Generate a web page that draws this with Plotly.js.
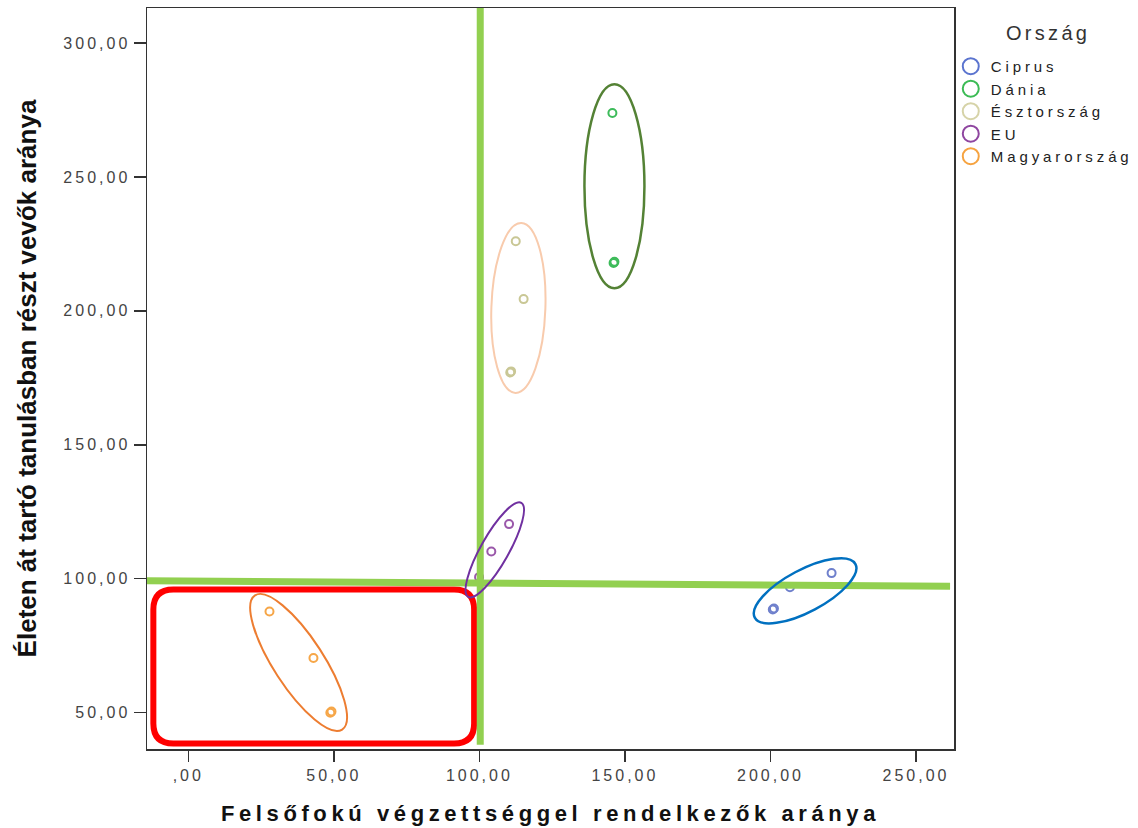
<!DOCTYPE html>
<html>
<head>
<meta charset="utf-8">
<script src="https://cdn.plot.ly/plotly-3.0.1.min.js"></script>
<style>
body{margin:0;background:#fff;}
.xtick text, .ytick text { letter-spacing: 3px; }
text.xtitle { letter-spacing: 4.6px; }
text.legendtext { letter-spacing: 3.9px; }
.annotation-text { letter-spacing: 3.3px; }
</style>
</head>
<body>
<div id="chart" style="width:1138px;height:828px;"></div>
<script>
// ---- Data ----
const countries = ['Ciprus', 'Dánia', 'Észtország', 'EU', 'Magyarország'];
const ciprusX = [200.8, 201.2, 206.7, 221.0];
const ciprusY = [88.5, 88.9, 96.8, 102.1];
const daniaX = [145.7, 146.1, 146.4];
const daniaY = [273.9, 217.9, 218.3];
const esztX = [112.5, 115.2, 110.6, 110.9];
const esztY = [226.0, 204.4, 177.0, 177.4];
const euX = [110.2, 104.1, 99.9];
const euY = [120.4, 110.2, 100.6];
const magyarX = [27.9, 43.0, 48.8, 49.2];
const magyarY = [87.8, 70.4, 50.0, 50.4];
const xTickVals = [0, 50, 100, 150, 200, 250];
const xTickText = [',00', '50,00', '100,00', '150,00', '200,00', '250,00'];
const yTickVals = [50, 100, 150, 200, 250, 300];
const yTickText = ['50,00', '100,00', '150,00', '200,00', '250,00', '300,00'];

// ---- Styles ----
const markerColors = ['#6f80cc', '#3dbb5a', '#c9c795', '#9a58aa', '#f6a648'];
const legendColors = ['#5b74cf', '#3cbb55', '#d6d3a8', '#8f46a0', '#f6a340'];
const xRange = [-14.18, 263.05];
const yRange = [36.44, 313.07];
const W = 1138, H = 828;
const M = {l: 147, r: 184, t: 8, b: 79};
const xs = (W - M.l - M.r) / (xRange[1] - xRange[0]);
const ys = (H - M.t - M.b) / (yRange[1] - yRange[0]);

const seriesX = [ciprusX, daniaX, esztX, euX, magyarX];
const seriesY = [ciprusY, daniaY, esztY, euY, magyarY];

const traces = [];
countries.forEach((name, i) => {
  traces.push({
    type: 'scatter', mode: 'markers', name: name,
    x: seriesX[i], y: seriesY[i], showlegend: false,
    marker: {symbol: 'circle-open', size: 8, color: markerColors[i], line: {width: 2, color: markerColors[i]}},
    hoverinfo: 'x+y+name'
  });
});
countries.forEach((name, i) => {
  traces.push({
    type: 'scatter', mode: 'markers', name: name,
    x: [null], y: [null], showlegend: true,
    marker: {symbol: 'circle-open', size: 16, color: legendColors[i], line: {width: 2, color: legendColors[i]}}
  });
});

// ---- Decorations: ellipses (centre in data units, semi-axes in px, angle deg) ----
const ellipses = [
  {cx: 146.4, cy: 246.5, a: 102, b: 30, ang: 90, color: '#548235', w: 2.5},
  {cx: 113.4, cy: 201.1, a: 85, b: 27, ang: 88, color: '#f8cbad', w: 2},
  {cx: 105.3, cy: 110.8, a: 54, b: 14, ang: 60.6, color: '#7030a0', w: 2},
  {cx: 211.9, cy: 95.5, a: 57, b: 21, ang: 28, color: '#0070c0', w: 2.5},
  {cx: 37.9, cy: 68.75, a: 80, b: 25, ang: -57, color: '#ed7d31', w: 2}
];
function ellipsePath(e) {
  const t = e.ang * Math.PI / 180, k = 0.5523;
  const U = [e.a * Math.cos(t) / xs, e.a * Math.sin(t) / ys];
  const V = [-e.b * Math.sin(t) / xs, e.b * Math.cos(t) / ys];
  const P = (su, sv) => (e.cx + su * U[0] + sv * V[0]).toFixed(4) + ',' + (e.cy + su * U[1] + sv * V[1]).toFixed(4);
  return 'M' + P(1, 0) +
    ' C' + P(1, k) + ' ' + P(k, 1) + ' ' + P(0, 1) +
    ' C' + P(-k, 1) + ' ' + P(-1, k) + ' ' + P(-1, 0) +
    ' C' + P(-1, -k) + ' ' + P(-k, -1) + ' ' + P(0, -1) +
    ' C' + P(k, -1) + ' ' + P(1, -k) + ' ' + P(1, 0) + ' Z';
}
function roundRect(x0, x1, y0, y1, rpx) {
  const rx = rpx / xs, ry = rpx / ys;
  const f = v => v.toFixed(4);
  return 'M' + f(x0 + rx) + ',' + f(y1) + ' L' + f(x1 - rx) + ',' + f(y1) +
    ' Q' + f(x1) + ',' + f(y1) + ' ' + f(x1) + ',' + f(y1 - ry) +
    ' L' + f(x1) + ',' + f(y0 + ry) +
    ' Q' + f(x1) + ',' + f(y0) + ' ' + f(x1 - rx) + ',' + f(y0) +
    ' L' + f(x0 + rx) + ',' + f(y0) +
    ' Q' + f(x0) + ',' + f(y0) + ' ' + f(x0) + ',' + f(y0 + ry) +
    ' L' + f(x0) + ',' + f(y1 - ry) +
    ' Q' + f(x0) + ',' + f(y1) + ' ' + f(x0 + rx) + ',' + f(y1) + ' Z';
}

const shapes = [
  {type: 'path', xref: 'x', yref: 'y', path: roundRect(-12.0, 98.2, 38.5, 96.0, 20), line: {color: '#ff0000', width: 6}},
  {type: 'line', xref: 'x', yref: 'y', x0: 100.3, x1: 100.3, y0: 38.0, y1: 313.5, line: {color: '#92d050', width: 7}},
  {type: 'line', xref: 'x', yref: 'y', x0: -14.5, x1: 261.7, y0: 99.25, y1: 97.2, line: {color: '#92d050', width: 7}}
];
ellipses.forEach(e => shapes.push({type: 'path', xref: 'x', yref: 'y', path: ellipsePath(e), line: {color: e.color, width: e.w}}));

const tickFont = {family: 'Liberation Sans, Arial, sans-serif', size: 16, color: '#444'};
const layout = {
  width: W, height: H,
  margin: {l: M.l, r: M.r, t: M.t, b: M.b, pad: 0, autoexpand: false},
  paper_bgcolor: '#fff', plot_bgcolor: '#fff',
  showlegend: true,
  xaxis: {
    range: xRange, tickvals: xTickVals, ticktext: xTickText,
    ticks: 'outside', ticklen: 11, tickwidth: 1.5, tickcolor: '#333',
    showline: true, linecolor: '#333', linewidth: 1.5, mirror: true,
    showgrid: false, zeroline: false, tickfont: tickFont, automargin: false,
    title: {text: 'Felsőfokú végzettséggel rendelkezők aránya', standoff: 23,
      font: {family: 'Liberation Sans, Arial, sans-serif', size: 22, color: '#111', weight: 'bold'}}
  },
  yaxis: {
    range: yRange, tickvals: yTickVals, ticktext: yTickText,
    ticks: 'outside', ticklen: 12, tickwidth: 1.5, tickcolor: '#333',
    showline: true, linecolor: '#333', linewidth: 1.5, mirror: true,
    showgrid: false, zeroline: false, tickfont: tickFont, automargin: false,
    title: {text: 'Életen át tartó tanulásban részt vevők aránya', standoff: 19,
      font: {family: 'Liberation Sans Narrow, Liberation Sans, Arial Narrow, sans-serif', size: 26, color: '#111', weight: 'bold'}}
  },
  legend: {
    x: 0.996, xanchor: 'left', y: 0.9434, yanchor: 'top',
    bgcolor: 'rgba(0,0,0,0)', borderwidth: 0,
    font: {family: 'Liberation Sans, Arial, sans-serif', size: 15, color: '#222'},
    tracegroupgap: 0, itemwidth: 30
  },
  annotations: [{
    text: 'Ország', xref: 'paper', yref: 'paper', x: 1.1165, y: 0.966,
    xanchor: 'center', yanchor: 'middle', showarrow: false,
    font: {family: 'Liberation Sans, Arial, sans-serif', size: 20, color: '#333'}
  }],
  shapes: shapes
};

Plotly.newPlot('chart', traces, layout, {displayModeBar: false, staticPlot: true});
</script>
</body>
</html>
